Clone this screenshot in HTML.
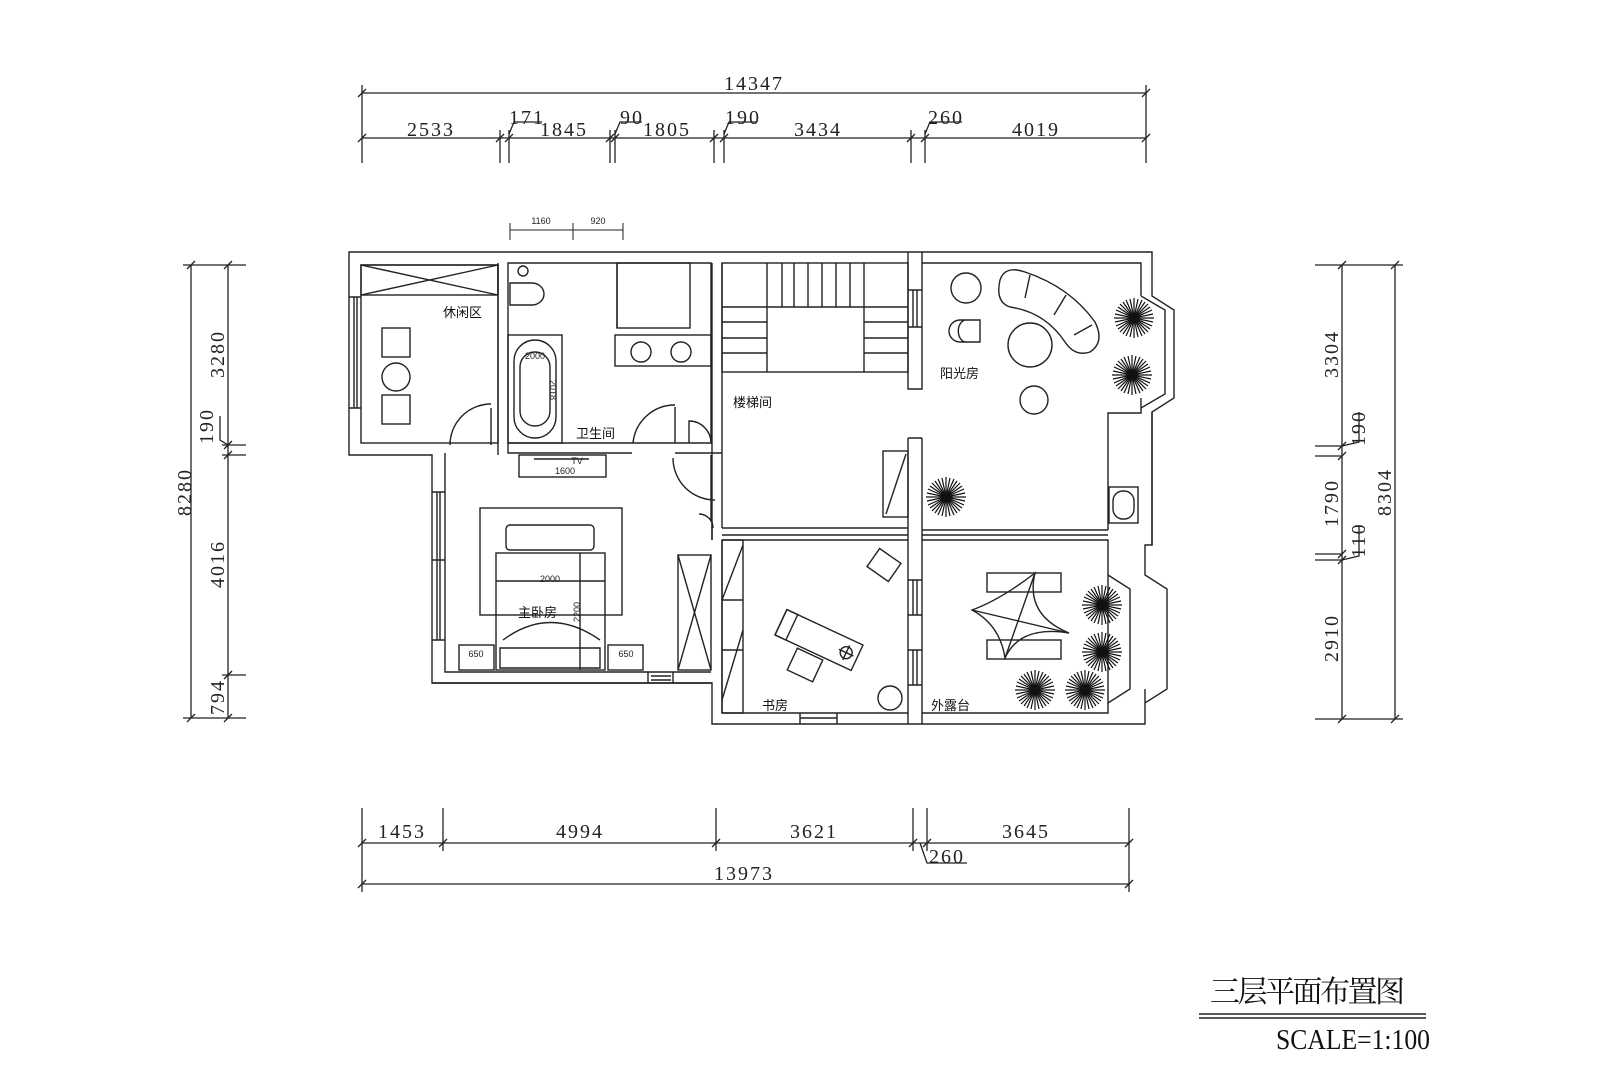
<!DOCTYPE html>
<html><head><meta charset="utf-8"><style>
html,body{margin:0;padding:0;background:#fff;}
svg{display:block}
.d{font-family:"Liberation Serif",serif;font-size:20px;letter-spacing:2px;fill:#222}
.c{font-family:"Liberation Sans","Noto Sans CJK SC",sans-serif;font-size:13px;fill:#111}
.s{font-family:"Liberation Sans",sans-serif;font-size:9px;fill:#222}
</style></head><body>
<svg width="1600" height="1066" viewBox="0 0 1600 1066" xmlns="http://www.w3.org/2000/svg">
<defs>
<g id="tree" stroke="#111" stroke-width="1.2">
<line x1="-20" y1="0" x2="20" y2="0"/><line x1="0" y1="-20" x2="0" y2="20"/>
<line x1="-14" y1="-14" x2="14" y2="14"/><line x1="-14" y1="14" x2="14" y2="-14"/>
<line x1="-18" y1="-8" x2="18" y2="8"/><line x1="-18" y1="8" x2="18" y2="-8"/>
<line x1="-8" y1="-18" x2="8" y2="18"/><line x1="-8" y1="18" x2="8" y2="-18"/>
<line x1="-19" y1="-4" x2="19" y2="4"/><line x1="-19" y1="4" x2="19" y2="-4"/>
<line x1="-4" y1="-19" x2="4" y2="19"/><line x1="-4" y1="19" x2="4" y2="-19"/>
<line x1="-11" y1="-16" x2="11" y2="16"/><line x1="-11" y1="16" x2="11" y2="-16"/>
<line x1="-16" y1="-11" x2="16" y2="11"/><line x1="-16" y1="11" x2="16" y2="-11"/>
</g>
</defs>
<g fill="none" stroke="#222" stroke-width="1.3">
<!-- top dims -->
<line x1="362" y1="93" x2="1146" y2="93"/>
<line x1="362" y1="138" x2="1146" y2="138"/>
<line x1="362" y1="85" x2="362" y2="163"/><line x1="1146" y1="85" x2="1146" y2="163"/>
<line x1="500" y1="130" x2="500" y2="163"/><line x1="509" y1="130" x2="509" y2="163"/>
<line x1="610" y1="130" x2="610" y2="163"/><line x1="615" y1="130" x2="615" y2="163"/>
<line x1="714" y1="130" x2="714" y2="163"/><line x1="724" y1="130" x2="724" y2="163"/>
<line x1="911" y1="130" x2="911" y2="163"/><line x1="925" y1="130" x2="925" y2="163"/>
<path d="M358 97l8-8M358 142l8-8M1142 97l8-8M1142 142l8-8M496 142l8-8M505 142l8-8M606 142l8-8M611 142l8-8M710 142l8-8M720 142l8-8M907 142l8-8M921 142l8-8"/>
<path d="M509 134l5-12h28M615 134l5-12h22M724 134l5-12h28M925 134l5-12h32"/>
<!-- small dims -->
<line x1="510" y1="230" x2="623" y2="230" stroke-width="1"/>
<line x1="510" y1="223" x2="510" y2="240" stroke-width="1"/><line x1="573" y1="223" x2="573" y2="240" stroke-width="1"/><line x1="623" y1="223" x2="623" y2="240" stroke-width="1"/>
<!-- left dims -->
<line x1="191" y1="265" x2="191" y2="718"/><line x1="228" y1="265" x2="228" y2="718"/>
<line x1="183" y1="265" x2="246" y2="265"/><line x1="183" y1="718" x2="246" y2="718"/>
<line x1="222" y1="445" x2="246" y2="445"/><line x1="222" y1="455" x2="246" y2="455"/><line x1="222" y1="675" x2="246" y2="675"/>
<path d="M187 269l8-8M224 269l8-8M187 722l8-8M224 722l8-8M224 449l8-8M224 459l8-8M224 679l8-8"/>
<path d="M228 445l-8-5v-24"/>
<!-- right dims -->
<line x1="1342" y1="265" x2="1342" y2="719"/><line x1="1395" y1="265" x2="1395" y2="719"/>
<line x1="1315" y1="265" x2="1403" y2="265"/><line x1="1315" y1="719" x2="1403" y2="719"/>
<line x1="1315" y1="446" x2="1342" y2="446"/><line x1="1315" y1="456" x2="1342" y2="456"/>
<line x1="1315" y1="554" x2="1342" y2="554"/><line x1="1315" y1="560" x2="1342" y2="560"/>
<path d="M1338 269l8-8M1391 269l8-8M1338 723l8-8M1391 723l8-8M1338 450l8-8M1338 460l8-8M1338 558l8-8M1338 564l8-8"/>
<path d="M1342 446l17-4v-30M1342 560l17-4v-30"/>
<!-- bottom dims -->
<line x1="362" y1="843" x2="1129" y2="843"/><line x1="362" y1="884" x2="1129" y2="884"/>
<line x1="362" y1="808" x2="362" y2="892"/><line x1="1129" y1="808" x2="1129" y2="892"/>
<line x1="443" y1="808" x2="443" y2="851"/><line x1="716" y1="808" x2="716" y2="851"/>
<line x1="913" y1="808" x2="913" y2="851"/><line x1="927" y1="808" x2="927" y2="851"/>
<path d="M358 847l8-8M358 888l8-8M1125 847l8-8M1125 888l8-8M439 847l8-8M712 847l8-8M909 847l8-8M923 847l8-8"/>
<path d="M920 843l7 20h40"/>
<!-- title lines -->
<line x1="1199" y1="1014" x2="1426" y2="1014" stroke-width="1.5"/><line x1="1199" y1="1018" x2="1426" y2="1018" stroke-width="1.5"/>
</g>

<!-- plan -->
<g fill="none" stroke="#222" stroke-width="1.4">
<path d="M349 252H1152V296l22 14V398l-22 14V545h-7v30l22 14v100l-22 14v-14V724H712V683H432V455H349Z"/>
<rect x="361" y="265" width="137" height="178"/>
<rect x="361" y="265" width="137" height="30"/><path d="M361 265L498 295M361 295L498 265"/>
<path d="M349 297h12M349 408h12M354 297v111M357 297v111"/>
<rect x="382" y="328" width="28" height="29"/><circle cx="396" cy="377" r="14"/><rect x="382" y="395" width="28" height="29"/>
<path d="M450 443v-2M491 408v37M450 445A41 41 0 0 1 491 404"/>
<path d="M508 263H711V443H508Z"/>
<path d="M498 263V455M508 443V453H632M675 453H722"/>
<circle cx="523" cy="271" r="5"/><path d="M510 283h22a12 11 0 0 1 0 22h-22z"/>
<rect x="508" y="335" width="54" height="108"/><rect x="514" y="340" width="42" height="98" rx="21"/><rect x="520" y="352" width="30" height="74" rx="15"/>
<rect x="617" y="263" width="73" height="65"/><path d="M617 263v65"/>
<rect x="615" y="335" width="96" height="31"/><circle cx="641" cy="352" r="10"/><circle cx="681" cy="352" r="10"/>
<path d="M675 407v36M633 443A42 42 0 0 1 675 405"/>
<path d="M711 443A22 22 0 0 0 689 421v22" />
<rect x="519" y="455" width="87" height="22"/><path d="M534 459h55"/>
<path d="M445 453V672H711M432 683H712"/>
<path d="M432 492h13M432 560h13M432 640h13M437 492v148M440 492v148"/>
<rect x="480" y="508" width="142" height="107"/>
<rect x="506" y="525" width="88" height="25" rx="4"/>
<rect x="496" y="553" width="109" height="117"/><path d="M496 581h109M580 553v117"/>
<path d="M503 640q47-35 97 0M500 648h100v20H500z"/>
<rect x="459" y="645" width="35" height="25"/><rect x="608" y="645" width="35" height="25"/>
<rect x="678" y="555" width="33" height="115"/><path d="M678 555l33 115M711 555l-33 115"/>
<path d="M648 672v11M673 672v11M651 676h20M651 680h20"/>
<path d="M673 458A42 42 0 0 0 715 500M711 455v66M712 521v19"/>
<path d="M713 528A14 14 0 0 0 699 514"/>
<path d="M712 263V540M722 263V528"/>
<rect x="722" y="263" width="186" height="109"/>
<path d="M767 263v109M864 263v109M767 307h97M767 263v44M782 263v44M794 263v44M808 263v44M822 263v44M836 263v44M850 263v44"/>
<path d="M722 322h45M722 338h45M722 353h45M864 322h44M864 338h44M864 353h44M722 307h45M864 307h44"/>
<path d="M908 252V389H922V252"/><path d="M908 290h14M908 327h14M913 290v37M917 290v37"/>
<path d="M908 438V724M922 438V724M908 438h14"/>
<rect x="883" y="451" width="25" height="66"/><path d="M906 454L886 514"/>
<path d="M722 528h186M922 530h186M722 535h186M922 535h186"/>
<path d="M922 263H1141V296M1141 398V413h-33V530M1152 412V545"/>
<path d="M1141 296l24 14v84l-24 14"/>
<rect x="1109" y="487" width="29" height="36"/><rect x="1113" y="491" width="21" height="28" rx="10"/>
<path d="M722 540H908M722 713H908M722 540V713"/>
<rect x="722" y="540" width="21" height="173"/><path d="M743 545L722 600M743 630L722 700M722 600h21M722 650h21"/>
<path d="M908 580h14M908 615h14M913 580v35M917 580v35M908 650h14M908 685h14M913 650v35M917 650v35"/>
<path d="M800 713v11M837 713v11M800 718h37"/>
<g transform="translate(819,640) rotate(25)"><rect x="-42" y="-14" width="84" height="28"/><rect x="-42" y="-14" width="12" height="28"/><circle cx="30" cy="0" r="6"/><path d="M22 0h16M30 -8v16"/></g>
<g transform="translate(805,665) rotate(25)"><rect x="-14" y="-12" width="28" height="24"/></g>
<g transform="translate(884,565) rotate(35)"><rect x="-13" y="-11" width="26" height="22"/></g>
<circle cx="890" cy="698" r="12"/>
<path d="M922 540H1108V713H922"/>
<path d="M1108 575l22 14v100l-22 14"/>
<rect x="987" y="573" width="74" height="19"/><rect x="987" y="640" width="74" height="19"/>
<path d="M972 610Q1000 600 1035 573Q1025 615 1069 633Q1020 625 1005 658Q1000 625 972 610Z"/>
<path d="M972 610L1069 633M1035 573L1005 658"/>
<circle cx="966" cy="288" r="15"/>
<path d="M960 320a10 10 0 0 0 0 22h20v-22z M966 320a7 10 0 0 0 0 22"/>
<circle cx="1030" cy="345" r="22"/>
<path d="M1000 280q5-15 25-8q45 15 70 50q10 20-5 30q-15 5-25-10q-20-30-55-35q-15-5-10-27z"/>
<path d="M1030 275l-5 23M1066 295l-12 20M1092 325l-18 10"/>
<circle cx="1034" cy="400" r="14"/>
</g>
<use href="#tree" x="1134" y="318"/><use href="#tree" x="1132" y="375"/><use href="#tree" x="946" y="497"/>
<use href="#tree" x="1102" y="605"/><use href="#tree" x="1102" y="652"/><use href="#tree" x="1035" y="690"/><use href="#tree" x="1085" y="690"/>

<g class="d" text-anchor="middle">
<text x="754" y="90">14347</text>
<text x="431" y="136">2533</text><text x="527" y="124">171</text><text x="564" y="136">1845</text>
<text x="632" y="124">90</text><text x="667" y="136">1805</text><text x="743" y="124">190</text>
<text x="818" y="136">3434</text><text x="946" y="124">260</text><text x="1036" y="136">4019</text>
<text x="402" y="838">1453</text><text x="580" y="838">4994</text><text x="814" y="838">3621</text><text x="1026" y="838">3645</text>
<text x="744" y="880">13973</text><text x="947" y="863">260</text>
<text transform="translate(191,492) rotate(-90)">8280</text>
<text transform="translate(224,354) rotate(-90)">3280</text>
<text transform="translate(213,426) rotate(-90)">190</text>
<text transform="translate(224,564) rotate(-90)">4016</text>
<text transform="translate(224,697) rotate(-90)">794</text>
<text transform="translate(1338,354) rotate(-90)">3304</text>
<text transform="translate(1365,428) rotate(-90)">190</text>
<text transform="translate(1338,503) rotate(-90)">1790</text>
<text transform="translate(1365,540) rotate(-90)">110</text>
<text transform="translate(1338,638) rotate(-90)">2910</text>
<text transform="translate(1391,492) rotate(-90)">8304</text>
</g>
<g class="s" text-anchor="middle">
<text x="541" y="224">1160</text><text x="598" y="224">920</text>
<text x="565" y="474">1600</text><text x="577" y="464">TV</text>
<text x="550" y="582">2000</text><text x="535" y="359">2000</text>
<text x="476" y="657">650</text><text x="626" y="657">650</text>
<text transform="translate(580,612) rotate(-90)">2200</text>
<text transform="translate(550,390) rotate(90)">2018</text>
</g>
<g class="c">
<text x="443" y="317">休闲区</text>
<text x="576" y="438">卫生间</text>
<text x="518" y="617">主卧房</text>
<text x="733" y="407">楼梯间</text>
<text x="940" y="378">阳光房</text>
<text x="762" y="710">书房</text>
<text x="931" y="710">外露台</text>
</g>
<text x="1210" y="1002" style="font-family:'Liberation Serif','Noto Serif CJK SC',serif;font-size:30px;fill:#111" textLength="195">三层平面布置图</text>
<text x="1276" y="1049" style="font-family:'Liberation Serif',serif;font-size:28px;fill:#111" textLength="154" lengthAdjust="spacingAndGlyphs">SCALE=1:100</text>
</svg>
</body></html>
